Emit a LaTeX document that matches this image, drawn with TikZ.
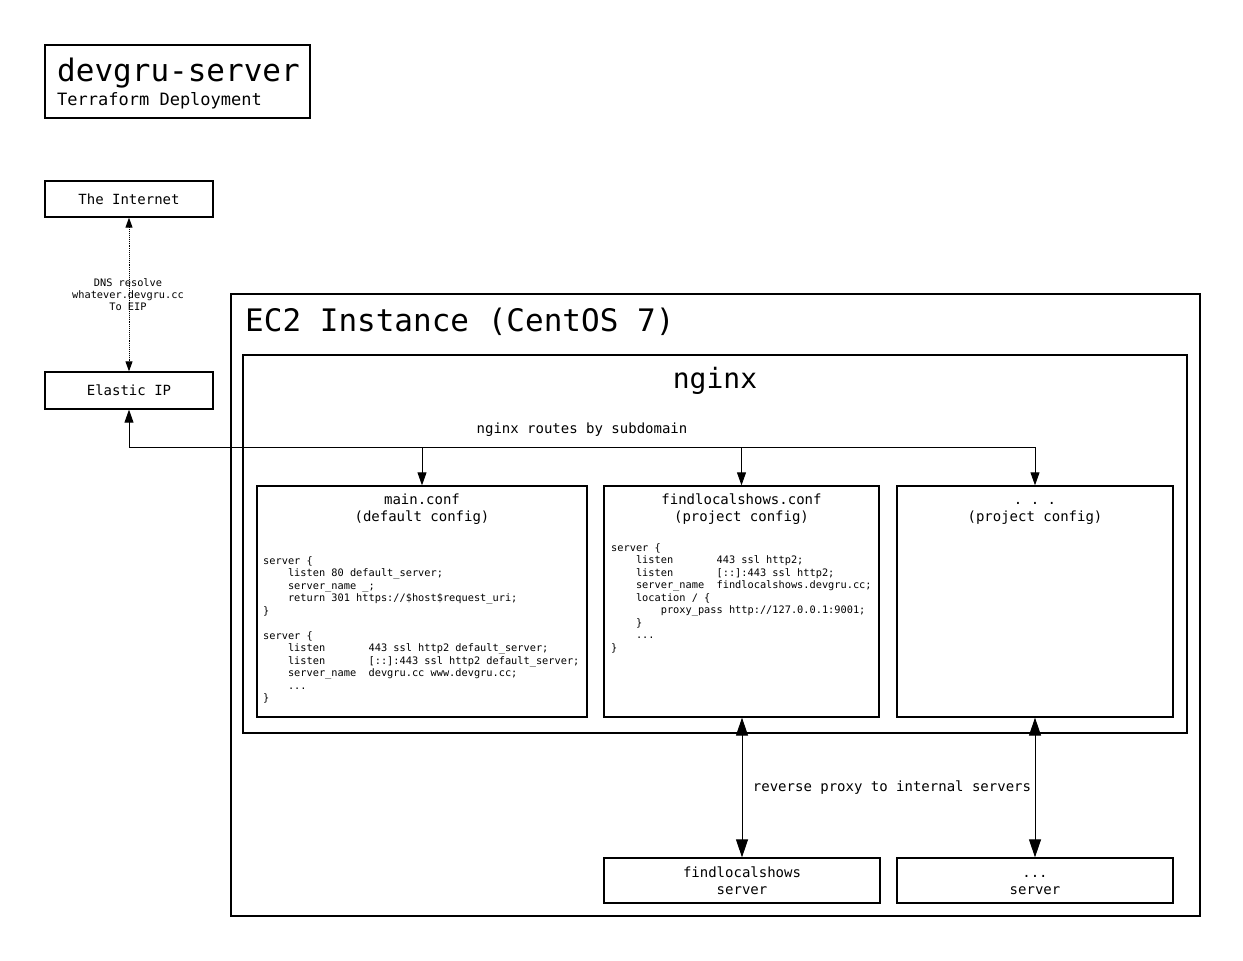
\documentclass[tikz,border=0pt]{standalone}
\usepackage{fontspec}
\setmainfont{DejaVu Sans Mono}
\usetikzlibrary{arrows.meta}
\newcommand{\ind}{\phantom{xxxx}}

\begin{document}
\begin{tikzpicture}[x=1pt,y=-1pt]
	\tikzstyle{box}=[draw,line width=1.3pt,inner sep=0pt]
	\tikzstyle{lbl}=[font=\fontsize{14}{17}\selectfont,align=center]
	\tikzstyle{code}=[font=\fontsize{10.3}{12.5}\selectfont,align=left,anchor=north west,inner sep=0pt]
	\tikzstyle{big}=[font=\fontsize{31}{31}\selectfont,inner sep=0pt]
	\tikzstyle{arr}=[line width=0.9pt,-{Triangle[length=13pt,width=9pt]}]
	\tikzstyle{arrr}=[line width=1pt,{Triangle[length=18pt,width=12pt]}-{Triangle[length=18pt,width=12pt]}]
	\useasboundingbox (0,0) rectangle (1243,961);

	% title
	\node[box,minimum width=265,minimum height=73] (title) at (177.5,81.5) {};
	\node[big,anchor=base west] (name) at (57,81) {devgru-server};
	\node[font=\fontsize{17}{17}\selectfont,inner sep=0pt,anchor=base west] (sub) at (57,105) {Terraform Deployment};

	% outside
	\node[box,lbl,minimum width=168,minimum height=36] (inet) at (129,199) {The Internet};
	\node[box,lbl,minimum width=168,minimum height=37] (eip) at (129,390.5) {Elastic IP};
	\draw[densely dotted,line width=0.9pt,{Triangle[length=10pt,width=7pt]}-{Triangle[length=10pt,width=7pt]}] (inet) -- (eip);
	\node[font=\fontsize{10.3}{12}\selectfont,align=center,inner sep=0pt] (dns) at (128,295) {DNS resolve\\whatever.devgru.cc\\To EIP};

	% ec2 + nginx
	\node[box,minimum width=969,minimum height=622] (ec2) at (715.5,605) {};
	\node[big,anchor=base west] (ec2ttl) at (245,331) {EC2 Instance (CentOS 7)};
	\node[box,minimum width=944,minimum height=378] (nginx) at (715,544) {};
	\node[font=\fontsize{28}{28}\selectfont,inner sep=0pt,anchor=base] (ngttl) at (715,388) {nginx};
	\node[lbl] (route) at (582,430) {nginx routes by subdomain};

	% configs
	\node[box,minimum width=330,minimum height=231] (main) at (422,601.5) {};
	\node[box,minimum width=275,minimum height=231] (find) at (741.5,601.5) {};
	\node[box,minimum width=276,minimum height=231] (dots) at (1035,601.5) {};
	\node[lbl] (mainttl) at (422,509) {main.conf\\(default config)};
	\node[lbl] (findttl) at (741.5,509) {findlocalshows.conf\\(project config)};
	\node[lbl] (dotsttl) at (1035,509) {\strut.\ .\ .\\(project config)};

	\node[code] (maincode) at (263,556) {server \{\\
		\ind listen 80 default\_server;\\
		\ind server\_name \_;\\
		\ind return 301 https://\$host\$request\_uri;\\
		\}\\[12.5pt]
		server \{\\
		\ind listen\ \ \ \ \ \ \ 443 ssl http2 default\_server;\\
		\ind listen\ \ \ \ \ \ \ [::]:443 ssl http2 default\_server;\\
		\ind server\_name\ \ devgru.cc www.devgru.cc;\\
		\ind ...\\
		\}};
	\node[code] (findcode) at (611,543) {server \{\\
		\ind listen\ \ \ \ \ \ \ 443 ssl http2;\\
		\ind listen\ \ \ \ \ \ \ [::]:443 ssl http2;\\
		\ind server\_name\ \ findlocalshows.devgru.cc;\\
		\ind location / \{\\
		\ind\ind proxy\_pass http://127.0.0.1:9001;\\
		\ind \}\\
		\ind ...\\
		\}};

	% routing
	\coordinate (bus) at (0,447);
	\draw[arr] (eip.south |- bus) -- (eip.south);
	\draw[line width=0.9pt] (eip.south |- bus) -- (dots.north |- bus);
	\foreach \n in {main,find,dots}
		\draw[arr] (\n.north |- bus) -- (\n.north);

	% servers
	\node[box,lbl,minimum width=276,minimum height=45] (findsrv) at (742,880.5) {findlocalshows\\server};
	\node[box,lbl,minimum width=276,minimum height=45] (dotssrv) at (1035,880.5) {\strut...\\server};
	\draw[arrr] (find.south -| findsrv.north) -- (findsrv.north);
	\draw[arrr] (dots.south) -- (dotssrv.north);
	\node[lbl] (proxy) at (892,788) {reverse proxy to internal servers};
\end{tikzpicture}
\end{document}
